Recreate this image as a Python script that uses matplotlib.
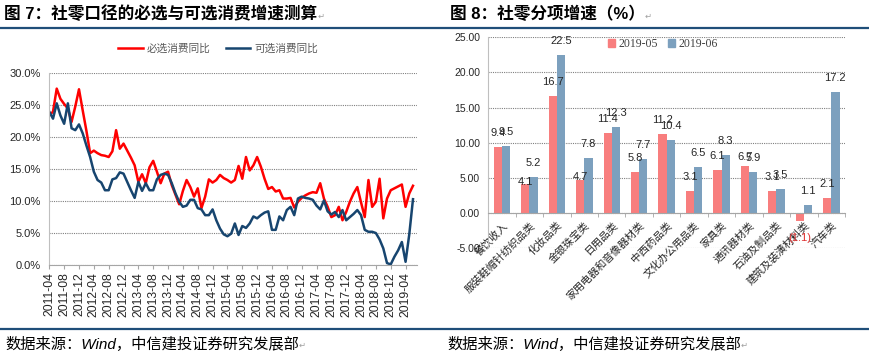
import numpy as np
import pandas as pd
import matplotlib
matplotlib.use('Agg')
import matplotlib.pyplot as plt
from matplotlib.patches import Patch

plt.rcParams['font.family'] = ['Liberation Sans', 'Noto Sans CJK SC', 'DejaVu Sans']

# 图7 数据: 2011-04 ~ 2019-06 月度同比(%)
months = pd.period_range('2011-04', periods=99, freq='M').strftime('%Y-%m')
essential = [23.4, 24.0, 27.6, 26.0, 25.2, 24.5, 22.4, 24.8, 27.5, 24.2,
             21.0, 17.5, 17.9, 17.5, 17.2, 17.1, 16.9, 17.8, 21.1, 18.2,
             19.0, 17.9, 16.8, 15.6, 13.0, 14.2, 12.8, 15.3, 16.3, 14.6,
             12.8, 14.3, 14.6, 12.5, 11.0, 9.5, 11.6, 13.3, 12.2, 10.7,
             12.0, 8.9, 10.7, 13.4, 12.9, 13.3, 14.1, 13.6, 13.3, 12.9,
             13.3, 15.5, 13.5, 16.9, 14.8, 15.6, 16.9, 15.4, 13.5, 11.9,
             12.2, 11.5, 11.7, 10.4, 10.4, 10.5, 9.0, 9.9, 10.5, 10.9,
             11.2, 11.4, 11.3, 12.8, 10.4, 9.1, 7.5, 7.8, 9.1, 7.0,
             8.3, 9.9, 11.2, 12.2, 9.8, 7.5, 13.3, 9.1, 9.9, 13.5,
             7.3, 10.4, 11.7, 12.0, 12.3, 12.6, 9.1, 11.2, 12.4]
optional = [24.0, 22.9, 25.3, 23.4, 22.1, 25.3, 21.4, 21.1, 22.0, 20.6,
            18.7, 16.9, 14.6, 13.3, 12.9, 11.7, 11.7, 13.4, 13.6, 14.5,
            14.3, 13.0, 11.7, 10.5, 13.0, 11.6, 12.8, 11.7, 11.7, 13.4,
            14.1, 14.3, 14.1, 12.8, 11.2, 9.9, 9.1, 9.3, 10.2, 10.2,
            8.9, 8.7, 7.8, 7.8, 8.7, 7.0, 5.7, 4.8, 4.5, 4.9,
            6.5, 4.7, 6.1, 5.8, 6.5, 7.6, 7.3, 7.8, 8.2, 8.4,
            5.5, 5.5, 7.6, 7.0, 8.6, 9.1, 7.8, 10.4, 10.7, 10.5,
            10.4, 10.2, 9.3, 8.7, 10.1, 8.4, 7.9, 8.3, 7.5, 8.6,
            7.0, 7.5, 8.0, 8.6, 7.8, 5.5, 5.2, 5.2, 5.0, 4.0,
            2.6, 0.3, 0.1, 1.3, 2.3, 3.6, 0.5, 4.8, 10.3]

# 图8 数据
categories = ['餐饮收入', '服装鞋帽针纺织品类', '化妆品类', '金银珠宝类', '日用品类',
              '家用电器和音像器材类', '中西药品类', '文化办公用品类', '家具类',
              '通讯器材类', '石油及制品类', '建筑及装潢材料类', '汽车类']
may = [9.4, 4.1, 16.7, 4.7, 11.4, 5.8, 11.2, 3.1, 6.1, 6.7, 3.1, -1.1, 2.1]
jun = [9.5, 5.2, 22.5, 7.8, 12.3, 7.7, 10.4, 6.5, 8.3, 5.9, 3.5, 1.1, 17.2]

W, H = 869, 358
fig = plt.figure(figsize=(W / 100, H / 100), dpi=100)

navy = '#1F4E79'
grid_kw = dict(linestyle=(0, (1, 1)), color='#808080', linewidth=0.8)

# 标题、横线、来源
t1 = fig.text(4 / W, 1 - 14 / H, '图 7：社零口径的必选与可选消费增速测算',
              fontsize=12, fontweight='bold', va='center')
t2 = fig.text(450 / W, 1 - 14 / H, '图 8：社零分项增速（%）',
              fontsize=12, fontweight='bold', va='center')
fig.add_artist(plt.Line2D([0, 1], [1 - 28 / H, 1 - 28 / H], color=navy, lw=1.6))
fig.add_artist(plt.Line2D([0, 1], [1 - 328.5 / H, 1 - 328.5 / H], color=navy, lw=1.6))
s1 = fig.text(5 / W, 1 - 344 / H, '数据来源：Wind，中信建投证券研究发展部',
              fontsize=11, style='italic', va='center')
s2 = fig.text(447 / W, 1 - 344 / H, '数据来源：Wind，中信建投证券研究发展部',
              fontsize=11, style='italic', va='center')

# 左图：折线
ax1 = fig.add_axes([49.3 / W, 93 / H, 367.4 / W, 191.7 / H])
x = np.arange(len(months))
ax1.plot(x, essential, color='#FF0000', lw=1.8, label='必选消费同比')
ax1.plot(x, optional, color='#17456F', lw=1.8, label='可选消费同比')
ax1.set_xlim(0, 99)
ax1.set_ylim(0, 30)
yt = np.arange(0, 31, 5)
ax1.set_yticks(yt)
ax1.set_yticklabels([f'{v:.1f}%' for v in yt], fontsize=8, color='#262626')
ax1.set_xticks(x[::4])
ax1.set_xticklabels(months[::4], rotation=90, fontsize=8.7, color='#262626')
ax1.tick_params(axis='y', length=0, pad=6)
ax1.tick_params(axis='x', length=3, color='#A6A6A6', pad=2)
ax1.yaxis.grid(True, **grid_kw)
ax1.set_axisbelow(True)
for side in ('top', 'right'):
    ax1.spines[side].set_visible(False)
ax1.spines['left'].set_color('#BFBFBF')
ax1.spines['bottom'].set_color('#A6A6A6')
leg1 = ax1.legend(loc='center', bbox_to_anchor=(0.46, 1.127), ncol=2, frameon=False,
                  fontsize=7.7, handlelength=2.3, columnspacing=1.4, handletextpad=0.4)
for txt in leg1.get_texts():
    txt.set_color('#595959')

# 右图：柱状
ax2 = fig.add_axes([488.3 / W, (H - 248.3) / H, 356.7 / W, 211 / H])
c = np.arange(len(categories))
bw = 0.3
red_c, blue_c = '#F87E7E', '#7CA0BE'
ax2.bar(c - bw / 2, may, bw, color=red_c, label='2019-05')
ax2.bar(c + bw / 2, jun, bw, color=blue_c, label='2019-06')
ax2.set_xlim(-0.5, len(categories) - 0.5)
ax2.set_ylim(-5, 25)
yt2 = np.arange(-5, 26, 5)
ax2.set_yticks(yt2)
ax2.set_yticklabels([f'{v:.2f}' for v in yt2], fontsize=7.5, color='#262626')
ax2.tick_params(axis='y', length=0, pad=6)
ax2.yaxis.grid(True, **grid_kw)
ax2.set_axisbelow(True)
for side in ('top', 'right'):
    ax2.spines[side].set_visible(False)
ax2.spines['left'].set_color('#BFBFBF')
ax2.spines['bottom'].set_position(('data', 0))
ax2.spines['bottom'].set_color('#A6A6A6')
ax2.set_xticks(c)
ax2.set_xticklabels(categories, rotation=45, ha='right', rotation_mode='anchor',
                    fontsize=7.6, color='#262626')
ax2.set_xticks(np.arange(-0.5, len(categories), 1), minor=True)
ax2.tick_params(axis='x', which='major', length=0, pad=5)
ax2.tick_params(axis='x', which='minor', length=3, color='#A6A6A6')

# 数据标签
nudge_may = {1: 2, 3: 3, 9: 9}
for i, v in enumerate(may):
    if v < 0:
        ax2.annotate(f'({abs(v):.1f})', (c[i] - bw / 2, v), xytext=(0, -12),
                     textcoords='offset points', ha='center', va='center',
                     fontsize=8, color='#E03030')
    else:
        off = nudge_may.get(i, 14) * 0.72
        ax2.annotate(f'{v:.1f}', (c[i] - bw / 2, v), xytext=(0, off),
                     textcoords='offset points', ha='center', va='center',
                     fontsize=8, color='#262626')
for i, v in enumerate(jun):
    ax2.annotate(f'{v:.1f}', (c[i] + bw / 2, v), xytext=(0, 14 * 0.72),
                 textcoords='offset points', ha='center', va='center',
                 fontsize=8, color='#262626')

handles = [Patch(color=red_c, label='2019-05'), Patch(color=blue_c, label='2019-06')]
leg2 = ax2.legend(handles=handles, loc='center', bbox_to_anchor=(0.49, 0.968), ncol=2,
                  frameon=False, handlelength=0.6, handleheight=0.6, handletextpad=0.3,
                  columnspacing=0.8, prop={'family': 'Liberation Serif', 'size': 8.5})
for txt in leg2.get_texts():
    txt.set_color('#404040')

# 段落标记
for t in (t1, t2, s1, s2):
    ax1.annotate('↵', xy=(1, 0.1), xycoords=t, fontsize=6, color='#A0A0A0',
                 ha='left', va='bottom', family=['DejaVu Sans'])

fig.savefig('out.png', dpi=100)
